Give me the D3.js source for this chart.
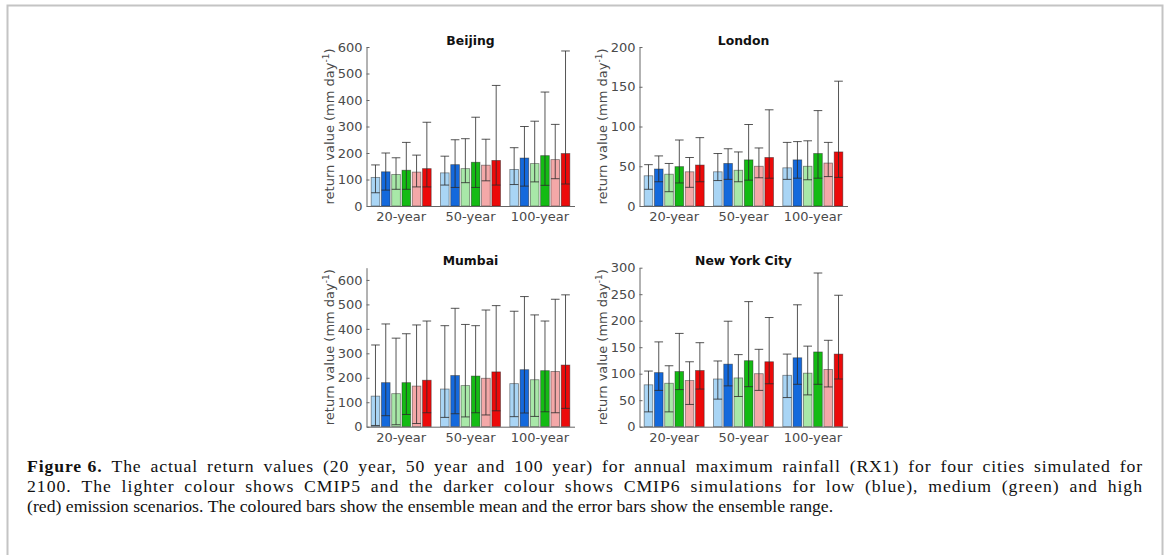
<!DOCTYPE html>
<html>
<head>
<meta charset="utf-8">
<script src="https://cdn.jsdelivr.net/npm/d3@7"></script>
<style>
  html, body { margin: 0; padding: 0; background: #fff; }
  svg { display: block; }
</style>
</head>
<body>
<svg id="chart" width="1167" height="555"></svg>
<script>
// ---------- data ----------
const periods = ["20-year", "50-year", "100-year"];
const series = ["CMIP5 low", "CMIP6 low", "CMIP5 medium", "CMIP6 medium", "CMIP5 high", "CMIP6 high"];
const seriesColors = ["#a9d5f5", "#1469dc", "#a8e8a8", "#14bb14", "#f4a8a8", "#ec0a0a"];

const cities = ["Beijing", "London", "Mumbai", "New York City"];
const yMax = [600, 200, 650, 300];
const yTickStep = [100, 50, 100, 50];
const yTickMax = [600, 200, 600, 300];

// ensemble mean / min / max  [period][series]
const beijingMean = [[108, 129, 119, 135, 128, 141], [125, 156, 141, 165, 154, 172], [138, 181, 160, 190, 175, 198]];
const beijingMin  = [[50, 60, 63, 63, 72, 72], [79, 70, 88, 70, 95, 79], [81, 75, 91, 78, 103, 83]];
const beijingMax  = [[155, 200, 182, 240, 192, 316], [188, 250, 254, 335, 252, 455], [220, 300, 320, 430, 308, 585]];

const londonMean = [[38, 46.5, 40, 49.5, 43, 51.5], [43, 53.5, 45, 58, 50, 61], [48, 58, 50, 66, 54, 68]];
const londonMin  = [[21, 30.5, 18, 29, 23.5, 30.5], [32, 33.5, 30.5, 32.5, 35.5, 35], [33.5, 35, 33, 35, 37, 36]];
const londonMax  = [[52, 63, 53.5, 83, 61, 86], [66, 72, 68, 102.5, 73, 121], [80, 81, 82, 120, 80, 157]];

const mumbaiMean = [[125, 180, 135, 180, 166, 190], [154, 209, 168, 207, 198, 224], [176, 233, 192, 229, 226, 252]];
const mumbaiMin  = [[5, 45, 8, 50, 13, 57], [38, 53, 40, 57, 48, 65], [41, 56, 42, 61, 57, 75]];
const mumbaiMax  = [[334, 420, 362, 380, 416, 432], [413, 484, 418, 413, 477, 495], [472, 532, 457, 432, 521, 539]];

const nycMean = [[79, 102, 82, 104, 87, 106], [90, 118, 92, 124.5, 100, 122.5], [97, 130, 101, 141, 108, 137]];
const nycMin  = [[28, 68.5, 28, 70, 42, 71], [52, 77, 57, 75.5, 68.5, 81], [55, 80, 60, 80, 75, 90]];
const nycMax  = [[105, 160, 115, 176, 122.5, 158.5], [124, 199, 136, 236, 146, 206], [137, 230, 152, 290, 163, 248]];

const cityMean = [beijingMean, londonMean, mumbaiMean, nycMean];
const cityMin  = [beijingMin, londonMin, mumbaiMin, nycMin];
const cityMax  = [beijingMax, londonMax, mumbaiMax, nycMax];

const captionLabel = "Figure 6.";
const captionLines = [
  "The actual return values (20 year, 50 year and 100 year) for annual maximum rainfall (RX1) for four cities simulated for",
  "2100. The lighter colour shows CMIP5 and the darker colour shows CMIP6 simulations for low (blue), medium (green) and high",
  "(red) emission scenarios. The coloured bars show the ensemble mean and the error bars show the ensemble range."
];

// ---------- layout ----------
const svg = d3.select("#chart");
svg.append("rect").attr("x", 0).attr("y", 0).attr("width", 1167).attr("height", 555).attr("fill", "#fff");
svg.append("rect")
  .attr("x", 7.5).attr("y", 5.5).attr("width", 1155).attr("height", 620)
  .attr("fill", "none").attr("stroke", "#c4c4c4").attr("stroke-width", 2);

const panelW = 208, panelH = 159;
const panelPos = [
  { x: 366.5, y: 47 }, { x: 639.5, y: 47 },
  { x: 366.5, y: 267.7 }, { x: 639.5, y: 267.7 }
];
const tickFont = "'DejaVu Sans', sans-serif";
const tickColor = "#4a4a4a";
const tickSize = 13;

cities.forEach((city, ci) => {
  const g = svg.append("g").attr("transform", `translate(${panelPos[ci].x},${panelPos[ci].y})`);
  const x0 = d3.scaleBand().domain(periods).range([0, panelW]);
  const x1 = d3.scaleBand().domain(series).range([-30, 30]).paddingInner(0.16);
  const y = d3.scaleLinear().domain([0, yMax[ci]]).range([panelH, 0]);
  const color = d3.scaleOrdinal().domain(series).range(seriesColors);

  const rows = [];
  periods.forEach((p, pi) => series.forEach((s, si) => rows.push({
    p, s, mean: cityMean[ci][pi][si], lo: cityMin[ci][pi][si], hi: cityMax[ci][pi][si]
  })));
  const cx = d => x0(d.p) + x0.bandwidth() / 2 + x1(d.s);
  const bw = x1.bandwidth();

  // bars
  g.selectAll("rect.bar").data(rows).join("rect")
    .attr("class", "bar")
    .attr("x", cx).attr("width", bw)
    .attr("y", d => y(d.mean)).attr("height", d => y(0) - y(d.mean))
    .attr("fill", d => color(d.s))
    .attr("stroke", "#222").attr("stroke-opacity", 0.55).attr("stroke-width", 0.8);

  // error bars
  const eg = g.append("g").attr("stroke", "#2a2a2a").attr("stroke-opacity", 0.8).attr("stroke-width", 1);
  eg.selectAll("line.v").data(rows).join("line")
    .attr("x1", d => cx(d) + bw / 2).attr("x2", d => cx(d) + bw / 2)
    .attr("y1", d => y(d.lo)).attr("y2", d => y(d.hi));
  eg.selectAll("line.top").data(rows).join("line")
    .attr("x1", d => cx(d)).attr("x2", d => cx(d) + bw)
    .attr("y1", d => y(d.hi)).attr("y2", d => y(d.hi));
  eg.selectAll("line.bot").data(rows).join("line")
    .attr("x1", d => cx(d)).attr("x2", d => cx(d) + bw)
    .attr("y1", d => y(d.lo)).attr("y2", d => y(d.lo));

  // y axis
  const ticks = d3.range(0, yTickMax[ci] + 1, yTickStep[ci]);
  const ya = g.append("g").call(d3.axisLeft(y).tickValues(ticks).tickSizeInner(-3).tickSizeOuter(0).tickPadding(4));
  ya.select(".domain").attr("stroke", "#666");
  ya.selectAll(".tick line").attr("stroke", "#666");
  ya.selectAll("text").attr("font-family", tickFont).attr("font-size", tickSize).attr("fill", tickColor);

  // x axis
  const xa = g.append("g").attr("transform", `translate(0,${panelH})`)
    .call(d3.axisBottom(x0).tickSize(0).tickPadding(6));
  xa.select(".domain").attr("stroke", "#666");
  xa.selectAll("text").attr("font-family", tickFont).attr("font-size", tickSize).attr("fill", tickColor);

  // title
  g.append("text").attr("x", panelW / 2).attr("y", -2.5).attr("text-anchor", "middle")
    .attr("font-family", tickFont).attr("font-weight", "bold").attr("font-size", 12.4).attr("fill", "#111")
    .text(city);

  // y label
  const yl = g.append("text")
    .attr("transform", `translate(${-33},${panelH / 2}) rotate(-90)`)
    .attr("text-anchor", "middle").attr("font-family", tickFont).attr("font-size", tickSize).attr("fill", tickColor);
  yl.append("tspan").text("return value (mm day");
  yl.append("tspan").attr("dy", -5).attr("font-size", 9).text("-1");
  yl.append("tspan").attr("dy", 5).text(")");
});

// ---------- caption (justified lines) ----------
const capX = 27, capRight = 1143;
const capY = [472, 492, 512];
const capFont = "'Liberation Serif', 'Times New Roman', serif";
const capSize = 17.7;
const spaceW = capSize * 0.25;

function layoutLine(t, words, sx, justify, letterSp) {
  t.attr("letter-spacing", letterSp);
  const spans = words.map(w => t.append("tspan").text(w));
  const widths = spans.map(s => s.node().getComputedTextLength());
  const total = d3.sum(widths);
  const gap = justify ? (capRight - sx - total) / (words.length - 1) : spaceW;
  let cx = sx;
  spans.forEach((s, k) => { s.attr("x", cx); cx += widths[k] + gap; });
}

captionLines.forEach((line, i) => {
  const words = (i === 0 ? captionLabel + " " + line : line).split(" ");
  const sx = capX;
  const t = svg.append("text").attr("y", capY[i])
    .attr("font-family", capFont).attr("font-size", capSize).attr("fill", "#111");
  let ls = 0;
  if (i < 2) {
    // measure natural width, then share the surplus between letters and word gaps
    const probe = svg.append("text").attr("font-family", capFont).attr("font-size", capSize);
    const natural = d3.sum(words, (w, k) => {
      const n = probe.text(w).attr("font-weight", i === 0 && k < 2 ? "bold" : null).node().getComputedTextLength();
      return n;
    });
    probe.remove();
    const surplus = (capRight - sx) - natural - spaceW * (words.length - 1);
    const nChars = d3.sum(words, w => w.length);
    ls = Math.max(0, surplus * 0.5 / nChars);
  }
  layoutLine(t, words, sx, i < 2, ls);
  if (i === 0) t.selectAll("tspan").filter((d, k) => k < 2).attr("font-weight", "bold");
});
</script>
</body>
</html>
